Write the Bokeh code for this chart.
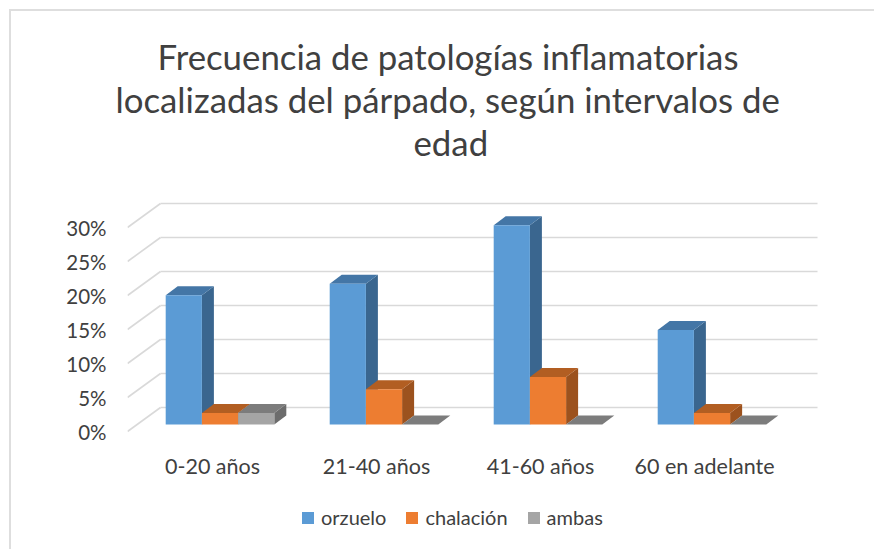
from bokeh.plotting import figure
from bokeh.embed import file_html
from bokeh.resources import INLINE
from bokeh.models import Range1d, FixedTicker, Legend, LegendItem, Title

categories = ["0-20 años", "21-40 años", "41-60 años", "60 en adelante"]
orzuelo = [19.0, 20.7, 29.3, 13.9]
chalacion = [1.7, 5.2, 7.0, 1.7]
ambas = [1.7, 0.0, 0.0, 0.0]
series_names = ["orzuelo", "chalación", "ambas"]
front_colors = ["#5B9BD5", "#ED7D31", "#A5A5A5"]
top_colors = ["#4476A6", "#B25E22", "#7C7C7C"]
side_colors = ["#3A668F", "#9C521E", "#6C6C6C"]
y_ticks = [0, 5, 10, 15, 20, 25, 30]
title_lines = ["Frecuencia de patologías inflamatorias",
               "localizadas del párpado, según intervalos de",
               "edad"]
title_offsets = [30, -12, 286]

PX_X = 164.0
PX_Y = 6.8
FL, FR, FT, FB = 127, 820, 162, 549
ZERO_Y = 431.0
CENTER0 = 212.0
O = 11

W, H = 865, 540
p = figure(width=W, height=H, output_backend="svg", toolbar_location=None,
           frame_width=FR - FL, frame_height=FB - FT,
           min_border_left=FL - O, min_border_right=W - 2 - (FR - O),
           min_border_top=FT - O, min_border_bottom=0,
           x_range=Range1d((FL - CENTER0) / PX_X, (FR - CENTER0) / PX_X),
           y_range=Range1d((ZERO_Y - FB) / PX_Y, (ZERO_Y - FT) / PX_Y),
           styles={"border-top": "2px solid #DEDEDE", "border-left": "2px solid #DEDEDE",
                   "box-sizing": "border-box", "margin-left": "9px", "margin-top": "9px"})
p.outline_line_color = None
p.grid.visible = False

wall_dx, wall_dy = 33.0 / PX_X, 24.0 / PX_Y
x_left = (FL - CENTER0) / PX_X
x_right_back = (817.0 - CENTER0) / PX_X
p.segment(x0=[x_left] * 7, y0=y_ticks,
          x1=[x_left + wall_dx] * 7, y1=[v + wall_dy for v in y_ticks],
          line_color="#D9D9D9", line_width=1.6)
p.segment(x0=[x_left + wall_dx] * 7, y0=[v + wall_dy for v in y_ticks],
          x1=[x_right_back] * 7, y1=[v + wall_dy for v in y_ticks],
          line_color="#D9D9D9", line_width=1.6)

bw = 36.2 / PX_X
bar_dx0 = 7.5 / PX_X
bar_dy0 = 7.0 / PX_Y
dx, dy = 12.0 / PX_X, 9.0 / PX_Y
legend_items = []
for s, vals in enumerate([orzuelo, chalacion, ambas]):
    lefts = [i + bar_dx0 + (s - 1.5) * bw for i in range(4)]
    rights = [l + bw for l in lefts]
    bottoms = [bar_dy0] * 4
    tops = [bar_dy0 + v for v in vals]
    p.patches(xs=[[r, r + dx, r + dx, r] for r in rights],
              ys=[[b, b + dy, t + dy, t] for b, t in zip(bottoms, tops)],
              fill_color=side_colors[s], line_color=None)
    p.patches(xs=[[l, r, r + dx, l + dx] for l, r in zip(lefts, rights)],
              ys=[[t, t, t + dy, t + dy] for t in tops],
              fill_color=top_colors[s], line_color=None)
    q = p.quad(left=lefts, right=rights, bottom=bottoms, top=tops,
               fill_color=front_colors[s], line_color=None)
    legend_items.append(LegendItem(label=series_names[s], renderers=[q]))

yax = p.yaxis[0]
yax.ticker = FixedTicker(ticks=y_ticks)
yax.major_label_overrides = {v: f"{v}%" for v in y_ticks}
yax.axis_line_color = None
yax.major_tick_line_color = None
yax.minor_tick_line_color = None
yax.major_label_text_font = "Lato"
yax.major_label_text_font_size = "20.5px"
yax.major_label_text_color = "#404040"
yax.major_label_standoff = 15

xax = p.xaxis[0]
xax.ticker = FixedTicker(ticks=list(range(4)))
xax.major_label_overrides = {i: c for i, c in enumerate(categories)}
xax.axis_line_color = None
xax.major_tick_line_color = None
xax.minor_tick_line_color = None
xax.major_label_text_font = "Lato"
xax.major_label_text_font_size = "21.5px"
xax.major_label_text_color = "#404040"
xax.major_label_standoff = 11
xax.fixed_location = -0.6

for line, off in reversed(list(zip(title_lines, title_offsets))):
    p.add_layout(Title(text=line, align="left", text_font="Lato", text_font_size="34.8px",
                       text_font_style="normal", text_color="#404040",
                       offset=off, standoff=0), "above")

legend = Legend(items=legend_items, orientation="horizontal",
                label_text_font="Lato", label_text_font_size="20px",
                label_text_color="#404040", border_line_color=None,
                glyph_width=15, glyph_height=15, spacing=18, label_standoff=6,
                location=(173, 20), margin=0, background_fill_alpha=0)
p.add_layout(legend, "center")

open("out.html", "w").write(file_html(p, INLINE))
